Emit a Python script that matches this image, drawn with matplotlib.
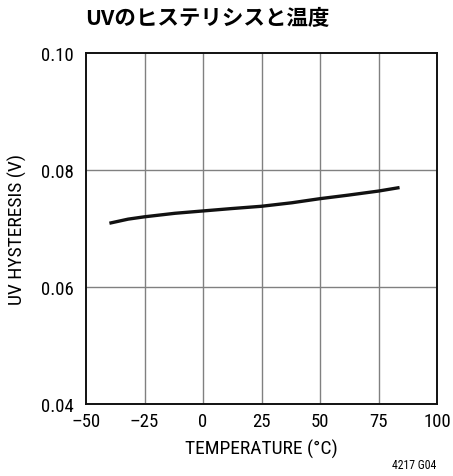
import matplotlib
matplotlib.use("Agg")
import matplotlib.pyplot as plt
from matplotlib import font_manager

# data
temp = [-40, -32, -25, -12, 0, 12, 25, 38, 50, 62, 75, 84]
hyst = [0.0709, 0.0716, 0.0720, 0.0726, 0.0730, 0.0734, 0.0738, 0.0744, 0.0751, 0.0757, 0.0764, 0.0770]
xticks = [-50, -25, 0, 25, 50, 75, 100]
xtick_labels = ["–50", "–25", "0", "25", "50", "75", "100"]
yticks = [0.04, 0.06, 0.08, 0.10]
ytick_labels = ["0.04", "0.06", "0.08", "0.10"]

names = {f.name for f in font_manager.fontManager.ttflist}
narrow = next((n for n in ["Roboto Condensed", "Liberation Sans Narrow", "Archivo Narrow", "Asap Condensed"]
               if n in names), "DejaVu Sans")
plt.rcParams['font.family'] = [narrow, 'DejaVu Sans']

fig = plt.figure(figsize=(4.53, 4.77), dpi=100)
ax = fig.add_axes([86/453, 1 - 405/477, 351/453, 351/477])

ax.plot(temp, hyst, color="#111111", lw=2.4, solid_capstyle="butt")

ax.set_xlim(-50, 100)
ax.set_ylim(0.04, 0.10)
ax.set_xticks(xticks)
ax.set_xticklabels(xtick_labels, fontsize=13.5)
ax.set_yticks(yticks)
ax.set_yticklabels(ytick_labels, fontsize=13.5)
ax.tick_params(length=0, pad=6)
ax.tick_params(axis="y", pad=9)

for x in xticks[1:-1]:
    ax.axvline(x, color="#808080", lw=1.0, zorder=0)
for y in yticks[1:-1]:
    ax.axhline(y, color="#808080", lw=1.0, zorder=0)
for s in ax.spines.values():
    s.set_linewidth(1.4)
    s.set_color("#111111")

ax.set_xlabel("TEMPERATURE (°C)", fontsize=14, labelpad=6)
ax.set_ylabel("UV HYSTERESIS (V)", fontsize=14, labelpad=10)

fig.text(207/453, 1 - 19/477, "UVのヒステリシスと温度", ha="center", va="center",
         fontsize=15.5, fontweight="bold", family=["Noto Sans CJK JP", "DejaVu Sans"])
fig.text(436/453, 1 - 466/477, "4217 G04", ha="right", va="center", fontsize=8.5)

fig.savefig("out.png", dpi=100)
